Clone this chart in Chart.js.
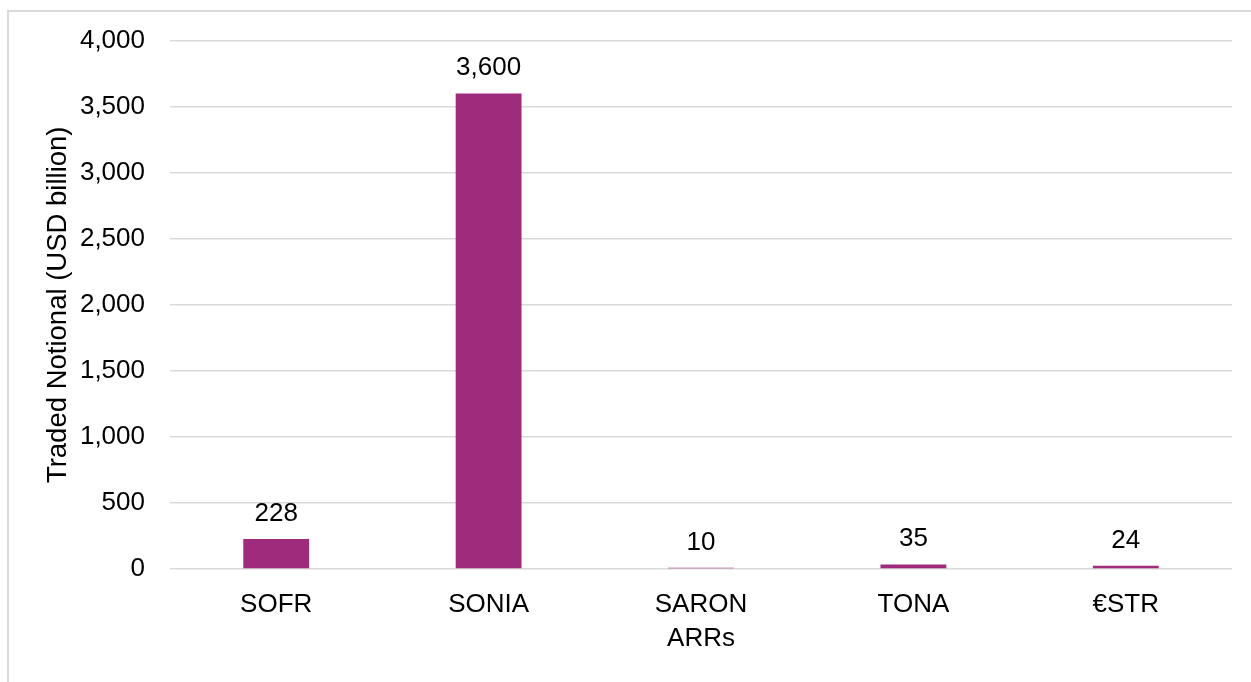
<!DOCTYPE html>
<html>
<head>
<meta charset="utf-8">
<script src="https://cdn.jsdelivr.net/npm/chart.js@4.4.1/dist/chart.umd.min.js"></script>
<style>
  html, body { margin: 0; padding: 0; background: #fff; }
  #wrap { position: relative; width: 1251px; height: 682px; overflow: hidden; }
  #frame { position: absolute; left: 7px; top: 10px; width: 1300px; height: 700px;
           border: 2px solid #d9d9d9; box-sizing: border-box; }
  canvas { position: absolute; left: 0; top: 0; }
</style>
</head>
<body>
<div id="wrap">
  <div id="frame"></div>
  <canvas id="c" width="1251" height="682"></canvas>
</div>
<script>
const categories = ['SOFR', 'SONIA', 'SARON', 'TONA', '€STR'];
const tradedNotional = [228, 3600, 10, 35, 24];
const yTicks = [0, 500, 1000, 1500, 2000, 2500, 3000, 3500, 4000];

const FONT = "'Liberation Sans', Arial, sans-serif";
const FS = 26;

// value labels drawn above each bar
const valueLabels = {
  id: 'valueLabels',
  afterDatasetsDraw(chart) {
    const ctx = chart.ctx;
    const meta = chart.getDatasetMeta(0);
    ctx.save();
    ctx.font = FS + 'px ' + FONT;
    ctx.fillStyle = '#000';
    ctx.textAlign = 'center';
    ctx.textBaseline = 'alphabetic';
    meta.data.forEach((bar, i) => {
      ctx.fillText(tradedNotional[i].toLocaleString('en-US'), bar.x, bar.y - 18);
    });
    ctx.restore();
  }
};

new Chart(document.getElementById('c'), {
  type: 'bar',
  data: {
    labels: categories,
    datasets: [{
      data: tradedNotional,
      backgroundColor: '#9E2B7B',
      borderWidth: 0,
      categoryPercentage: 1,
      barPercentage: 0.31
    }]
  },
  options: {
    responsive: false,
    animation: false,
    devicePixelRatio: 1,
    layout: { padding: { left: 42, right: 19, top: 40, bottom: 24 } },
    plugins: { legend: { display: false }, tooltip: { enabled: false } },
    scales: {
      x: {
        grid: { display: false },
        border: { display: false },
        ticks: { color: '#000', font: { family: FONT, size: FS }, padding: 12 },
        title: { display: true, text: 'ARRs', color: '#000', font: { family: FONT, size: FS }, padding: { top: 0 } },
        afterFit(scale) { scale.height = 682 - 569 - 24; }
      },
      y: {
        min: 0, max: 4000,
        afterBuildTicks(scale) { scale.ticks = yTicks.map(v => ({ value: v })); },
        grid: { color: '#d9d9d9', lineWidth: 1.5, drawTicks: false },
        border: { display: false },
        ticks: {
          color: '#000', font: { family: FONT, size: FS }, padding: 25,
          callback: v => v.toLocaleString('en-US')
        },
        title: { display: true, text: 'Traded Notional (USD billion)', color: '#000', font: { family: FONT, size: 27.5 }, padding: 0 },
        afterFit(scale) { scale.width = 170 - 42; }
      }
    }
  },
  plugins: [valueLabels]
});
</script>
</body>
</html>
